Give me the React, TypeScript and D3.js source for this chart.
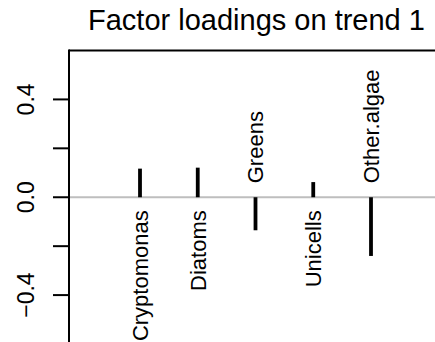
import React from "react";
import * as d3 from "d3";

const categories = ["Cryptomonas", "Diatoms", "Greens", "Unicells", "Other.algae"];
const loadings = [0.117, 0.121, -0.135, 0.062, -0.24];
const yTicks = [-0.6, -0.4, -0.2, 0, 0.2, 0.4];
const yTickLabels = [-0.4, 0, 0.4];
const title = "Factor loadings on trend 1";

const W = 435;
const H = 342;
const font = "'Liberation Sans', Arial, Helvetica, sans-serif";

export default function App() {
  const x = d3.scalePoint<string>().domain(categories).range([140, 371]);
  const y = d3.scaleLinear().domain([-0.6, 0.6]).range([344, 50.5]);
  const axisX = 69;
  const fmt = (v: number) => (v === 0 ? "0.0" : v < 0 ? "\u2212" + Math.abs(v).toFixed(1) : v.toFixed(1));

  return (
    <svg width={W} height={H} style={{ position: "absolute", left: 0, top: 0, background: "#fff" }} fontFamily={font}>
      <text x={88} y={29.5} textAnchor="start" fontSize={29} fill="#000">{title}</text>
      {/* box top and left axis */}
      <line x1={axisX} x2={W + 5} y1={y(0.6)} y2={y(0.6)} stroke="#000" strokeWidth={2} />
      <line x1={axisX} x2={axisX} y1={y(0.6) - 1} y2={H + 5} stroke="#000" strokeWidth={2} />
      {yTicks.map((t) => (
        <line key={t} x1={53} x2={axisX} y1={y(t)} y2={y(t)} stroke="#000" strokeWidth={2} />
      ))}
      {yTickLabels.map((t) => (
        <text key={t} transform={`translate(33.5,${y(t)}) rotate(-90)`} textAnchor="middle" fontSize={23} fill="#000">{fmt(t)}</text>
      ))}
      <line x1={axisX + 1} x2={W} y1={y(0)} y2={y(0)} stroke="#bebebe" strokeWidth={2.2} />
      {categories.map((c, i) => (
        <line key={c} x1={x(c)} x2={x(c)} y1={y(0)} y2={y(loadings[i])} stroke="#000" strokeWidth={3.8} />
      ))}
      {categories.map((c, i) => {
        const pos = loadings[i] >= 0;
        const ty = pos ? y(0) + 13 : y(0) - 14;
        return (
          <text key={c} transform={`translate(${x(c)},${ty}) rotate(-90)`} dy="0.36em" textAnchor={pos ? "end" : "start"} fontSize={22} fill="#000">{c}</text>
        );
      })}
    </svg>
  );
}
